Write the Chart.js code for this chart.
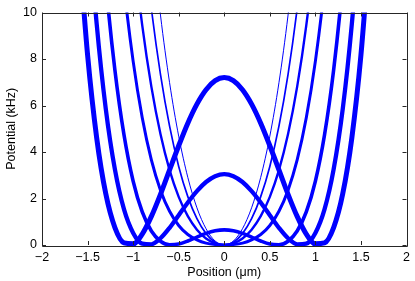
<!DOCTYPE html>
<html>
<head>
<meta charset="utf-8">
<script src="https://cdn.jsdelivr.net/npm/chart.js@4"></script>
<style>
  html, body { margin: 0; padding: 0; background: #fff; }
  canvas { display: block; }
</style>
</head>
<body>
<canvas id="potencial" width="415" height="281"></canvas>
<script>
// Posições (µm) onde as curvas foram lidas
const positions = [-1.6, -1.5, -1.4, -1.3, -1.2, -1.1, -1.0, -0.9, -0.8, -0.7, -0.6, -0.5, -0.4, -0.3, -0.2, -0.1, 0,
    0.1, 0.2, 0.3, 0.4, 0.5, 0.6, 0.7, 0.8, 0.9, 1.0, 1.1, 1.2, 1.3, 1.4, 1.5, 1.6];

// Potencial (kHz) de cada curva, da mais grossa para a mais fina
const barreiraAlta = [13.14, 8.18, 4.61, 2.2, 0.75, 0.09, 0.05, 0.47, 1.23, 2.18, 3.23, 4.27, 5.24, 6.06, 6.68, 7.07, 7.2,
    7.07, 6.68, 6.06, 5.24, 4.27, 3.23, 2.18, 1.23, 0.47, 0.05, 0.09, 0.75, 2.2, 4.61, 8.18, 13.14];
const barreiraMedia = [20.81, 14.43, 9.51, 5.85, 3.25, 1.53, 0.52, 0.06, 0.03, 0.29, 0.74, 1.28, 1.83, 2.32, 2.71, 2.96, 3.05,
    2.96, 2.71, 2.32, 1.83, 1.28, 0.74, 0.29, 0.03, 0.06, 0.52, 1.53, 3.25, 5.85, 9.51, 14.43, 20.81];
const barreiraBaixa = [30.27, 22.45, 16.19, 11.28, 7.52, 4.73, 2.75, 1.42, 0.6, 0.16, 0.01, 0.04, 0.17, 0.34, 0.5, 0.61, 0.65,
    0.61, 0.5, 0.34, 0.17, 0.04, 0.01, 0.16, 0.6, 1.42, 2.75, 4.73, 7.52, 11.28, 16.19, 22.45, 30.27];
const pocoPlano = [44.49, 34.87, 26.92, 20.45, 15.24, 11.11, 7.91, 5.47, 3.66, 2.36, 1.45, 0.84, 0.45, 0.22, 0.08, 0.02, 0,
    0.02, 0.08, 0.22, 0.45, 0.84, 1.45, 2.36, 3.66, 5.47, 7.91, 11.11, 15.24, 20.45, 26.92, 34.87, 44.49];
const pocoMedio = [57.06, 45.92, 36.55, 28.75, 22.31, 17.05, 12.82, 9.45, 6.81, 4.77, 3.22, 2.07, 1.24, 0.66, 0.28, 0.07, 0,
    0.07, 0.28, 0.66, 1.24, 2.07, 3.22, 4.77, 6.81, 9.45, 12.82, 17.05, 22.31, 28.75, 36.55, 45.92, 57.06];
const pocoEstreito = [70.5, 57.73, 46.84, 37.62, 29.87, 23.41, 18.07, 13.7, 10.17, 7.34, 5.11, 3.38, 2.08, 1.13, 0.49, 0.12, 0,
    0.12, 0.49, 1.13, 2.08, 3.38, 5.11, 7.34, 10.17, 13.7, 18.07, 23.41, 29.87, 37.62, 46.84, 57.73, 70.5];
const pocoHarmonico = [83.81, 69.43, 57.03, 46.41, 37.36, 29.7, 23.27, 17.91, 13.49, 9.89, 6.98, 4.68, 2.91, 1.6, 0.7, 0.17, 0,
    0.17, 0.7, 1.6, 2.91, 4.68, 6.98, 9.89, 13.49, 17.91, 23.27, 29.7, 37.36, 46.41, 57.03, 69.43, 83.81];

const curvas = [barreiraAlta, barreiraMedia, barreiraBaixa, pocoPlano, pocoMedio, pocoEstreito, pocoHarmonico];

// Marcas dos eixos
const xTicks = [-2, -1.5, -1, -0.5, 0, 0.5, 1, 1.5, 2];
const yTicks = [0, 2, 4, 6, 8, 10];
const xTitulo = 'Position (\u03bcm)';
const yTitulo = 'Potential (kHz)';

// Estilo
const espessuras = [5, 4.3, 3.6, 3, 2.4, 1.7, 1];
const fonte = { family: "'Liberation Sans', Arial, Helvetica, sans-serif", size: 12.5 };
const corEixo = '#262626';

const formatar = (v) => (v < 0 ? '\u2212' + String(-v) : String(v));

// Caixa do eixo com marcas para dentro, estilo MATLAB
const caixaMatlab = {
    id: 'caixaMatlab',
    afterDraw(chart) {
        const { ctx, chartArea: a, scales } = chart;
        ctx.save();
        ctx.strokeStyle = corEixo;
        ctx.lineWidth = 1;
        ctx.beginPath();
        ctx.rect(Math.round(a.left) + 0.5, Math.round(a.top) + 0.5,
            Math.round(a.right - a.left), Math.round(a.bottom - a.top));
        const tam = 4;
        xTicks.forEach(v => {
            const px = Math.round(scales.x.getPixelForValue(v)) + 0.5;
            ctx.moveTo(px, a.bottom); ctx.lineTo(px, a.bottom - tam);
            ctx.moveTo(px, a.top); ctx.lineTo(px, a.top + tam);
        });
        yTicks.forEach(v => {
            const py = Math.round(scales.y.getPixelForValue(v)) + 0.5;
            ctx.moveTo(a.left, py); ctx.lineTo(a.left + tam, py);
            ctx.moveTo(a.right, py); ctx.lineTo(a.right - tam, py);
        });
        ctx.stroke();

        // Títulos dos eixos
        ctx.fillStyle = '#000';
        ctx.font = `${fonte.size}px ${fonte.family}`;
        ctx.textAlign = 'center';
        ctx.textBaseline = 'middle';
        ctx.fillText(xTitulo, (a.left + a.right) / 2, 273);
        ctx.translate(12, (a.top + a.bottom) / 2);
        ctx.rotate(-Math.PI / 2);
        ctx.fillText(yTitulo, 0, 0);
        ctx.restore();
    }
};

const ctx = document.getElementById('potencial').getContext('2d');
new Chart(ctx, {
    type: 'line',
    data: {
        datasets: curvas.map((valores, i) => ({
            data: positions.map((x, j) => ({ x: x, y: valores[j] })),
            borderColor: '#0000ff',
            borderWidth: espessuras[i],
            pointRadius: 0,
            fill: false,
            cubicInterpolationMode: 'monotone',
            clip: { left: 0, top: 0, right: 0, bottom: 3 }
        }))
    },
    options: {
        responsive: false,
        animation: false,
        devicePixelRatio: 1,
        layout: { padding: { left: 0, top: 12, right: 8, bottom: 0 } },
        plugins: {
            legend: { display: false },
            tooltip: { enabled: false }
        },
        scales: {
            x: {
                type: 'linear',
                min: -2,
                max: 2,
                grid: { display: false, drawTicks: false },
                border: { display: false },
                afterBuildTicks: (s) => { s.ticks = xTicks.map(v => ({ value: v })); },
                afterFit: (s) => { s.height = 36; },
                ticks: {
                    autoSkip: false,
                    maxRotation: 0,
                    padding: 5,
                    color: '#000',
                    font: fonte,
                    callback: (v) => formatar(v)
                }
            },
            y: {
                type: 'linear',
                min: 0,
                max: 10,
                grid: { display: false, drawTicks: false },
                border: { display: false },
                afterBuildTicks: (s) => { s.ticks = yTicks.map(v => ({ value: v })); },
                afterFit: (s) => { s.width = 42; },
                ticks: {
                    autoSkip: false,
                    padding: 5,
                    color: '#000',
                    font: fonte,
                    callback: (v) => formatar(v)
                }
            }
        }
    },
    plugins: [caixaMatlab]
});
</script>
</body>
</html>
